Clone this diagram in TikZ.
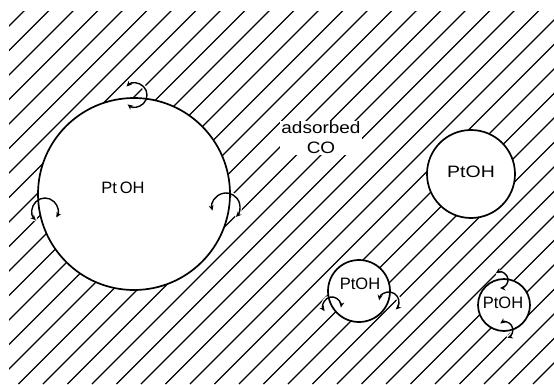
\documentclass[tikz,border=0pt]{standalone}
\usepackage{fontspec}
\setmainfont{Liberation Sans}
\usetikzlibrary{arrows.meta}
\begin{document}
\begin{tikzpicture}[x=1pt,y=1pt,
  hatch/.style={line width=1.1pt},
  rim/.style={circle, draw, fill=white, line width=1.7pt, inner sep=0pt},
  flip/.style={line width=1.4pt,
    {Stealth[length=5.5pt,width=5pt]}-{Stealth[length=5.5pt,width=5pt]}},
  halo/.style={line width=4pt, draw=white},
  lbl/.style={font=\fontsize{16.5}{20}\selectfont, inner sep=1pt}]
\useasboundingbox (0,0) rectangle (554,384);

% diagonal hatching of the CO-covered surface
\begin{scope}
  \clip (9,0) rectangle (554,372);
  \foreach \k in {0,...,37} {
    \pgfmathsetmacro\c{35+24.5*\k}
    \draw[hatch] (\c-384,0) -- (\c,384);
  }
\end{scope}

% white gaps in the hatching behind the turnover arrows
\foreach \cx/\cy/\r/\a/\b in {45/173/13/225/-30, 226/177/14/195/-45,
    135/289/12/135/-128, 332/78/9/215/-10, 389/82/10/170/-48,
    500/104/8/122/-90, 505/54/8/126/-73}
  \draw[halo, shift={(\cx,\cy)}] (\a:\r) arc[start angle=\a, end angle=\b, radius=\r];

% label of the adsorbed layer
\node[lbl, fill=white, align=center] (co) at (321,246)
  {\scalebox{1.15}[1]{adsorbed}\\\scalebox{1.15}[1]{CO}};

% PtOH islands
\node[rim, minimum size=192pt] (big) at (134,190) {};
\node[rim, minimum size=88pt] (mid) at (471,210) {};
\node[rim, minimum size=62pt] (sma) at (359,93) {};
\node[rim, minimum size=52pt] (tiny) at (504,79) {};

\node[lbl] (bigt) at (123,196) {Pt\,OH};
\node[lbl] (midt) at (471,212) {\scalebox{1.18}[1]{PtOH}};
\node[lbl] (smat) at (360,100) {PtOH};
\node[lbl] (tinyt) at (503,81) {PtOH};

% turnover arrows on the island rims
\foreach \cx/\cy/\r/\a/\b in {45/173/13/225/-30, 226/177/14/195/-45,
    135/289/12/135/-128, 332/78/9/215/-10, 389/82/10/170/-48,
    500/104/8/122/-90, 505/54/8/126/-73}
  \draw[flip, shift={(\cx,\cy)}] (\a:\r) arc[start angle=\a, end angle=\b, radius=\r];
\end{tikzpicture}
\end{document}
